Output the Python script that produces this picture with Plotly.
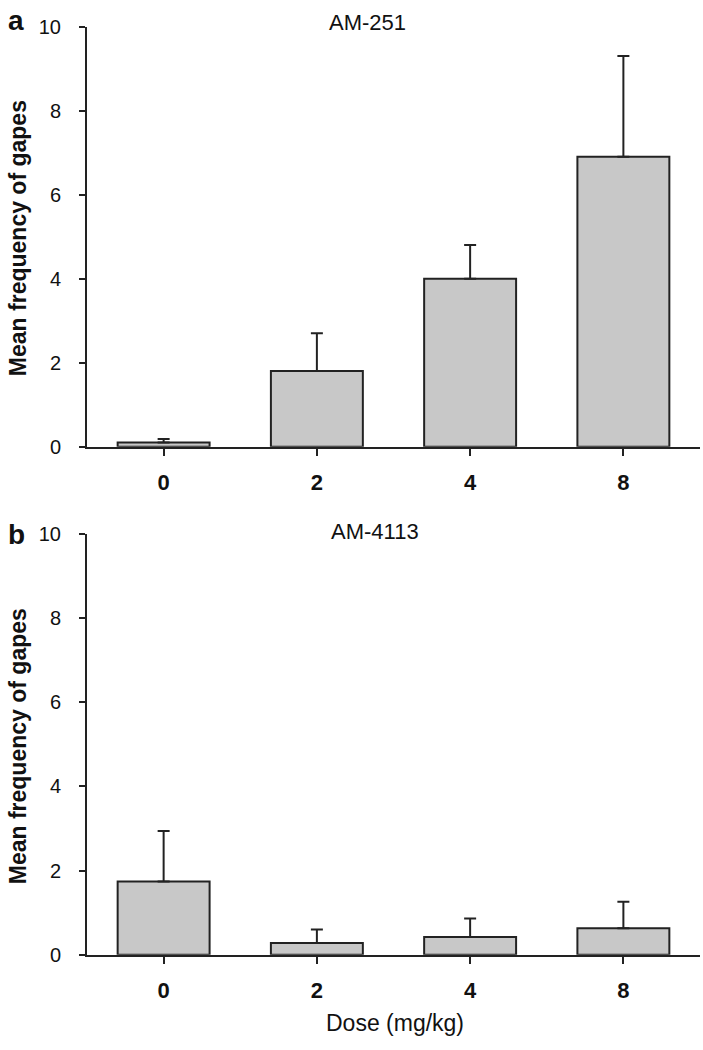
import plotly.graph_objects as go

doses = ["0", "2", "4", "8"]
am251_mean = [0.1, 1.8, 4.0, 6.9]
am251_sem = [0.08, 0.9, 0.8, 2.4]
am4113_mean = [1.74, 0.28, 0.42, 0.63]
am4113_sem = [1.2, 0.32, 0.44, 0.63]
y_ticks = [0, 2, 4, 6, 8, 10]

W, H = 703, 1050
FONT = "Liberation Sans, Arial, sans-serif"
DARK = "#222222"

fig = go.Figure()

def add_bars(means, sems, xa, ya):
    fig.add_trace(go.Bar(
        x=doses, y=means, xaxis=xa, yaxis=ya, width=0.6,
        marker=dict(color="#c8c8c8", line=dict(color=DARK, width=2)),
        error_y=dict(type="data", array=sems, arrayminus=[0] * len(sems),
                     symmetric=False, color=DARK, thickness=2, width=6),
        showlegend=False,
    ))

add_bars(am251_mean, am251_sem, "x", "y")
add_bars(am4113_mean, am4113_sem, "x2", "y2")

xdom = [87 / W, 700 / W]
ydom_a = [1 - 445 / H, 1 - 16 / H]
ydom_b = [1 - 964 / H, 1 - 534 / H]

xcommon = dict(
    domain=xdom, range=[-0.5, 3.5], type="category",
    showline=True, linecolor=DARK, linewidth=2,
    ticks="outside", ticklen=7, tickwidth=2, tickcolor=DARK,
    tickfont=dict(family=FONT, size=22, color="#111", weight="bold"),
    ticklabelstandoff=8, showgrid=False, zeroline=False, fixedrange=True,
)
ycommon = dict(
    range=[0, 10], tickvals=y_ticks,
    showline=True, linecolor=DARK, linewidth=2,
    ticks="outside", ticklen=6, tickwidth=2, tickcolor=DARK,
    tickfont=dict(family=FONT, size=20, color="#111"),
    ticklabelstandoff=14, showgrid=False, zeroline=False,
)

fig.update_layout(
    width=W, height=H,
    margin=dict(l=0, r=0, t=0, b=0),
    paper_bgcolor="white", plot_bgcolor="white",
    bargap=0.4,
    xaxis=dict(**xcommon, anchor="y"),
    yaxis=dict(**ycommon, domain=ydom_a, anchor="x"),
    xaxis2=dict(**xcommon, anchor="y2"),
    yaxis2=dict(**ycommon, domain=ydom_b, anchor="x2"),
)

def ann(text, x, y, size, bold=False, angle=0, xanchor="center"):
    fig.add_annotation(
        text=text, x=x / W, y=1 - y / H, xref="paper", yref="paper",
        xanchor=xanchor, yanchor="middle", showarrow=False, textangle=angle,
        font=dict(family=FONT, size=size, color="#111",
                  weight="bold" if bold else "normal"),
    )

ann("a", 16, 10, 28, bold=True)
ann("b", 16, 535, 28, bold=True)
ann("AM-251", 327, 12, 22, xanchor="left")
ann("AM-4113", 329, 532, 22, xanchor="left")
ann("Mean frequency of gapes", 18, 232, 23, bold=True, angle=-90)
ann("Mean frequency of gapes", 18, 751, 23, bold=True, angle=-90)
ann("Dose (mg/kg)", 395, 1034, 23)

fig.write_html("out.html", config={"displayModeBar": False},
               post_script="document.body.style.margin='0';")
